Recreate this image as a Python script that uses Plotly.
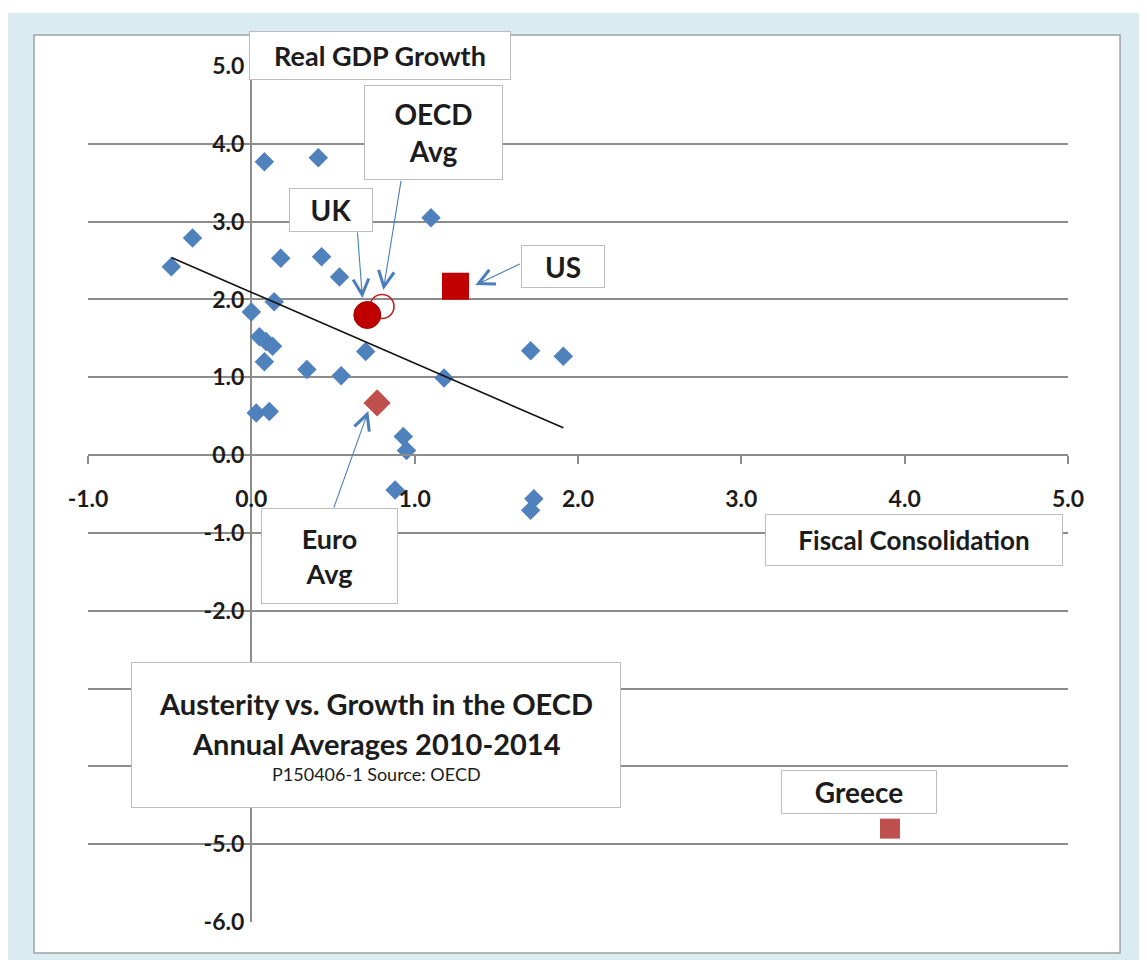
import plotly.graph_objects as go

# ---------------- data ----------------
country_x = [-0.49, -0.36, 0.08, 0.41, 1.10, 0.18, 0.43, 0.54, 0.14, 0.00, 0.05, 0.09, 0.13, 0.08,
             0.34, 0.55, 0.70, 1.18, 1.71, 1.91, 0.03, 0.11, 0.93, 0.95, 0.88, 1.73, 1.71]
country_y = [2.42, 2.79, 3.77, 3.82, 3.05, 2.53, 2.55, 2.29, 1.97, 1.84, 1.52, 1.46, 1.40, 1.20,
             1.10, 1.02, 1.33, 0.99, 1.34, 1.27, 0.54, 0.56, 0.24, 0.06, -0.45, -0.56, -0.71]

uk_x, uk_y = [0.71], [1.80]
oecd_x, oecd_y = [0.80], [1.91]
us_x, us_y = [1.25], [2.17]
euro_x, euro_y = [0.77], [0.67]
greece_x, greece_y = [3.91], [-4.80]

trend_x = [-0.49, 1.91]
trend_y = [2.54, 0.35]

x_tickvals = [-1, 0, 1, 2, 3, 4, 5]
x_ticktext = ["-1.0", "0.0", "1.0", "2.0", "3.0", "4.0", "5.0"]
y_tickvals = [-6, -5, -4, -3, -2, -1, 0, 1, 2, 3, 4, 5]
# -4.0 and -3.0 are hidden behind the title box in the original
y_ticktext = ["-6.0", "-5.0", "", "", "-2.0", "-1.0", "0.0", "1.0", "2.0", "3.0", "4.0", "5.0"]

# ---------------- styles ----------------
FONT = "Lato"
TXT = "#1c1c1c"
GRID = "#8c8c8c"
BLUE = "#4F81BD"
DARKRED = "#C00000"
RED = "#C0504D"
ARROW = "#4A7EBB"
LIGHTBLUE = "#DBEBF2"

fig = go.Figure()

fig.add_trace(go.Scatter(x=country_x, y=country_y, mode="markers",
                         marker=dict(symbol="diamond", size=15, color=BLUE), name="Countries"))
fig.add_trace(go.Scatter(x=trend_x, y=trend_y, mode="lines",
                         line=dict(color="#111111", width=1.6), name="Trend"))
fig.add_trace(go.Scatter(x=euro_x, y=euro_y, mode="markers",
                         marker=dict(symbol="diamond", size=21, color=RED), name="Euro Avg"))
fig.add_trace(go.Scatter(x=oecd_x, y=oecd_y, mode="markers",
                         marker=dict(symbol="circle-open", size=24, color="#BC2020",
                                     line=dict(width=1.6)), name="OECD Avg"))
fig.add_trace(go.Scatter(x=uk_x, y=uk_y, mode="markers",
                         marker=dict(symbol="circle", size=27, color=DARKRED,
                                     line=dict(color="#A00000", width=1)), name="UK"))
fig.add_trace(go.Scatter(x=us_x, y=us_y, mode="markers",
                         marker=dict(symbol="square", size=27, color=DARKRED), name="US"))
fig.add_trace(go.Scatter(x=greece_x, y=greece_y, mode="markers",
                         marker=dict(symbol="square", size=20, color=RED), name="Greece"))

# ---------------- annotations ----------------
annotations = []


def box(x, y, w, h, text="", size=28, weight="bold", ref="x"):
    annotations.append(dict(x=x, y=y, xref=ref, yref=ref.replace("x", "y"), text=text,
                            showarrow=False, xanchor="center", yanchor="middle", width=w, height=h,
                            bgcolor="white", bordercolor="#BDBDBD", borderwidth=1, borderpad=0,
                            font=dict(family=FONT, size=size, color=TXT, weight=weight)))


def label(x, y, text, size, weight="bold"):
    annotations.append(dict(x=x, y=y, xref="x", yref="y", text=text, showarrow=False,
                            xanchor="center", yanchor="middle",
                            font=dict(family=FONT, size=size, color=TXT, weight=weight)))


def arrow(tail_x, tail_y, tip_x, tip_y):
    annotations.append(dict(x=tip_x, y=tip_y, ax=tail_x, ay=tail_y, xref="x", yref="y",
                            axref="x", ayref="y", text="", showarrow=True,
                            arrowhead=5, arrowsize=2.8, arrowwidth=1.1, arrowcolor=ARROW))


box(0.298, 1.0123, 260, 47, "Real GDP Growth", size=27, ref="paper")
box(1.118, 4.145, 137, 93, "OECD<br>Avg")
box(0.49, 3.149, 82, 42, "UK")
box(1.911, 2.423, 82, 41, "US")
box(0.481, -1.298, 135, 94, "Euro<br>Avg", size=27)
box(4.06, -1.093, 296, 50, "Fiscal Consolidation", size=26)
box(3.72, -4.33, 154, 42, "Greece")
box(0.765, -3.599, 488, 144, "")
label(0.765, -3.193, "Austerity vs. Growth in the OECD", 29)
label(0.765, -3.707, "Annual Averages 2010-2014", 29)
label(0.765, -4.093, "P150406-1 Source: OECD", 18, weight="normal")

arrow(0.649, 2.879, 0.680, 2.018)   # UK
arrow(0.918, 3.542, 0.808, 2.121)   # OECD
arrow(1.653, 2.465, 1.372, 2.185)   # US
arrow(0.502, -0.694, 0.716, 0.566)  # Euro

# ---------------- background shapes ----------------
shapes = [
    dict(type="rect", xref="paper", yref="paper", x0=-0.0816, x1=1.0806, y0=-0.0444, y1=1.0619,
         fillcolor=LIGHTBLUE, line=dict(width=0), layer="below"),
    dict(type="rect", xref="paper", yref="paper", x0=-0.0551, x1=1.0531, y0=-0.0362, y1=1.0362,
         fillcolor="white", line=dict(color="#9BA3A8", width=1.5), layer="below"),
]

# page body has an 8px default margin, so the figure is 8px smaller than the window
fig.update_layout(
    width=1139, height=952,
    margin=dict(l=80, r=79, t=58, b=38),
    paper_bgcolor="white", plot_bgcolor="rgba(0,0,0,0)",
    showlegend=False,
    annotations=annotations, shapes=shapes,
    xaxis=dict(range=[-1, 5], tickvals=x_tickvals, ticktext=x_ticktext,
               anchor="free", position=6 / 11,
               showline=True, linecolor=GRID, linewidth=2,
               ticks="outside", ticklen=8, tickwidth=1.5, tickcolor=GRID,
               ticklabelstandoff=15,
               showgrid=False, zeroline=True, zerolinecolor=GRID, zerolinewidth=2,
               tickfont=dict(family=FONT, size=23, color=TXT, weight="bold")),
    yaxis=dict(range=[-6, 5], tickvals=y_tickvals, ticktext=y_ticktext,
               anchor="free", position=1 / 6,
               showline=False, ticks="", ticklabelstandoff=7,
               showgrid=True, gridcolor=GRID, gridwidth=2,
               zeroline=True, zerolinecolor=GRID, zerolinewidth=2,
               tickfont=dict(family=FONT, size=23, color=TXT, weight="bold")),
)

fig.write_html("out.html")
